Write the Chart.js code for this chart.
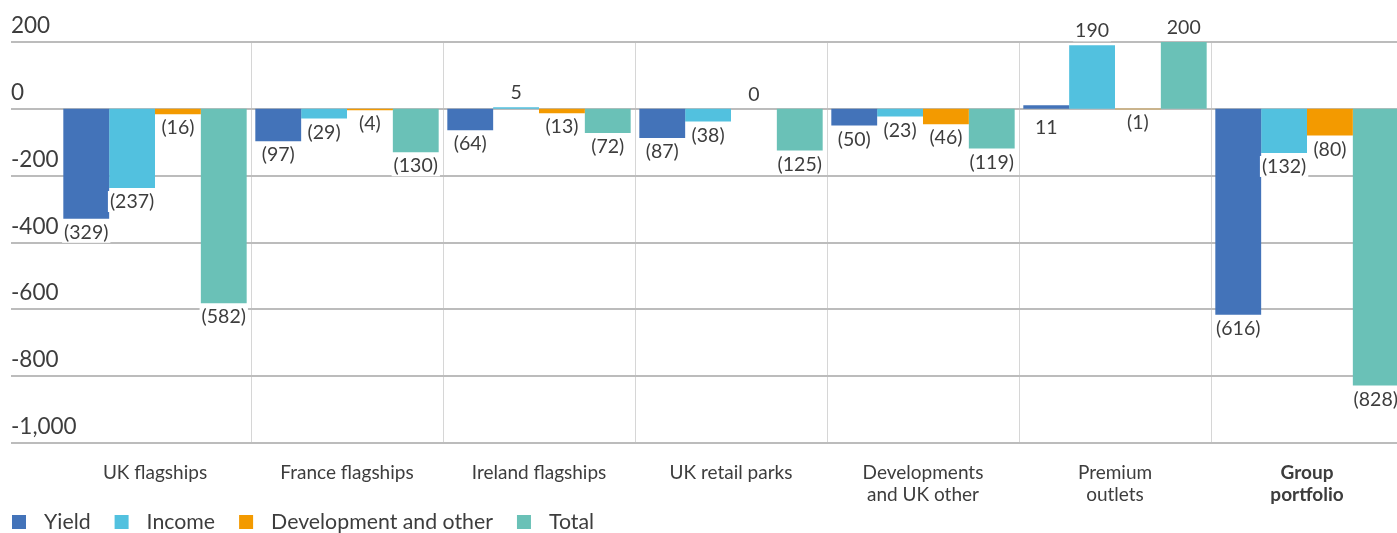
<!DOCTYPE html>
<html>
<head>
<meta charset="utf-8">
<script src="https://cdn.jsdelivr.net/npm/chart.js@4"></script>
<style>
    html, body { margin: 0; padding: 0; background: #fff; overflow: hidden; }
    #wrap { width: 1403px; height: 533px; }
</style>
</head>
<body>
<div id="wrap"><canvas id="chart" width="1403" height="533"></canvas></div>
<script>
// Categories
const categories = [
    'UK flagships',
    'France flagships',
    'Ireland flagships',
    'UK retail parks',
    ['Developments', 'and UK other'],
    ['Premium', 'outlets'],
    ['Group', 'portfolio']
];

// Series values
const yieldValues = [-329, -97, -64, -87, -50, 11, -616];
const incomeValues = [-237, -29, 5, -38, -23, 190, -132];
const developmentValues = [-16, -4, -13, 0, -46, -1, -80];
const totalValues = [-582, -130, -72, -125, -119, 200, -828];

// Y axis tick labels
const yTicks = [200, 0, -200, -400, -600, -800, -1000];

const textColor = '#3d3d3d';
const fontFamily = 'Lato, "Open Sans", sans-serif';

function formatValue(v) {
    return v < 0 ? '(' + Math.abs(v) + ')' : String(v);
}

// Horizontal grid lines + y labels sitting above them
const yGridPlugin = {
    id: 'yGrid',
    beforeDatasetsDraw(chart) {
        const ctx = chart.ctx;
        const y = chart.scales.y;
        ctx.save();
        ctx.strokeStyle = '#bcbcbc';
        ctx.lineWidth = 2;
        ctx.fillStyle = textColor;
        ctx.font = '22.5px ' + fontFamily;
        ctx.textAlign = 'left';
        ctx.textBaseline = 'bottom';
        yTicks.forEach(v => {
            const py = Math.round(y.getPixelForValue(v));
            ctx.beginPath();
            ctx.moveTo(11, py);
            ctx.lineTo(chart.width, py);
            ctx.stroke();
            ctx.fillText(v.toLocaleString('en-US'), 11, py - 5);
        });
        ctx.restore();
    }
};

// Value labels under / over the bars
const valueLabelPlugin = {
    id: 'valueLabels',
    afterDatasetsDraw(chart) {
        const ctx = chart.ctx;
        ctx.save();
        ctx.font = '19.5px ' + fontFamily;
        ctx.textAlign = 'center';
        chart.data.datasets.forEach((ds, di) => {
            const meta = chart.getDatasetMeta(di);
            meta.data.forEach((bar, i) => {
                const v = ds.data[i];
                const text = formatValue(v);
                const w = ctx.measureText(text).width;
                let top;
                if (v < 0) {
                    top = Math.max(bar.y, bar.base) + 3;
                } else if (di === 0) {
                    // small positive yield sits under the zero line
                    top = bar.base + 8;
                } else {
                    top = Math.min(bar.y, bar.base) - 4 - 21;
                }
                ctx.fillStyle = '#fff';
                ctx.fillRect(bar.x - w / 2 - 2, top, w + 4, 21);
                ctx.fillStyle = textColor;
                ctx.textBaseline = 'top';
                ctx.fillText(text, bar.x, top + 1);
            });
        });
        ctx.restore();
    }
};

// Legend along the bottom edge
const bottomLegendPlugin = {
    id: 'bottomLegend',
    afterDraw(chart) {
        const ctx = chart.ctx;
        ctx.save();
        ctx.font = '21.3px ' + fontFamily;
        ctx.textBaseline = 'middle';
        ctx.textAlign = 'left';
        let x = 12;
        const cy = 522;
        chart.data.datasets.forEach(ds => {
            ctx.fillStyle = ds.backgroundColor;
            ctx.fillRect(x, cy - 7, 14, 14);
            const tx = x + 32;
            ctx.fillStyle = textColor;
            ctx.fillText(ds.label, tx, cy);
            x = tx + ctx.measureText(ds.label).width + 24;
        });
        ctx.restore();
    }
};

const ctx = document.getElementById('chart').getContext('2d');
new Chart(ctx, {
    type: 'bar',
    data: {
        labels: categories,
        datasets: [
            { label: 'Yield', data: yieldValues, backgroundColor: '#4373b9' },
            { label: 'Income', data: incomeValues, backgroundColor: '#52c1df' },
            { label: 'Development and other', data: developmentValues, backgroundColor: '#f39a00' },
            { label: 'Total', data: totalValues, backgroundColor: '#6ac1b7' }
        ]
    },
    options: {
        responsive: false,
        animation: false,
        categoryPercentage: 0.955,
        barPercentage: 1,
        layout: { padding: { top: 42, bottom: 0, left: 0, right: 0 } },
        plugins: {
            legend: { display: false },
            tooltip: { enabled: false }
        },
        scales: {
            x: {
                grid: {
                    offset: true,
                    drawTicks: false,
                    color: c => (c.index > 0 && c.index < categories.length) ? '#d6d6d6' : 'rgba(0,0,0,0)',
                    lineWidth: 1
                },
                border: { display: false },
                ticks: {
                    padding: 19,
                    color: textColor,
                    font: c => ({
                        family: fontFamily,
                        size: 19,
                        lineHeight: '22px',
                        weight: c.index === categories.length - 1 ? 'bold' : 'normal'
                    }),
                    maxRotation: 0,
                    autoSkip: false
                },
                afterFit(scale) { scale.height = 90; }
            },
            y: {
                min: -1000,
                max: 200,
                grid: { display: false },
                border: { display: false },
                ticks: { display: false, stepSize: 200 },
                afterFit(scale) { scale.width = 59; }
            }
        }
    },
    plugins: [yGridPlugin, valueLabelPlugin, bottomLegendPlugin]
});
</script>
</body>
</html>
